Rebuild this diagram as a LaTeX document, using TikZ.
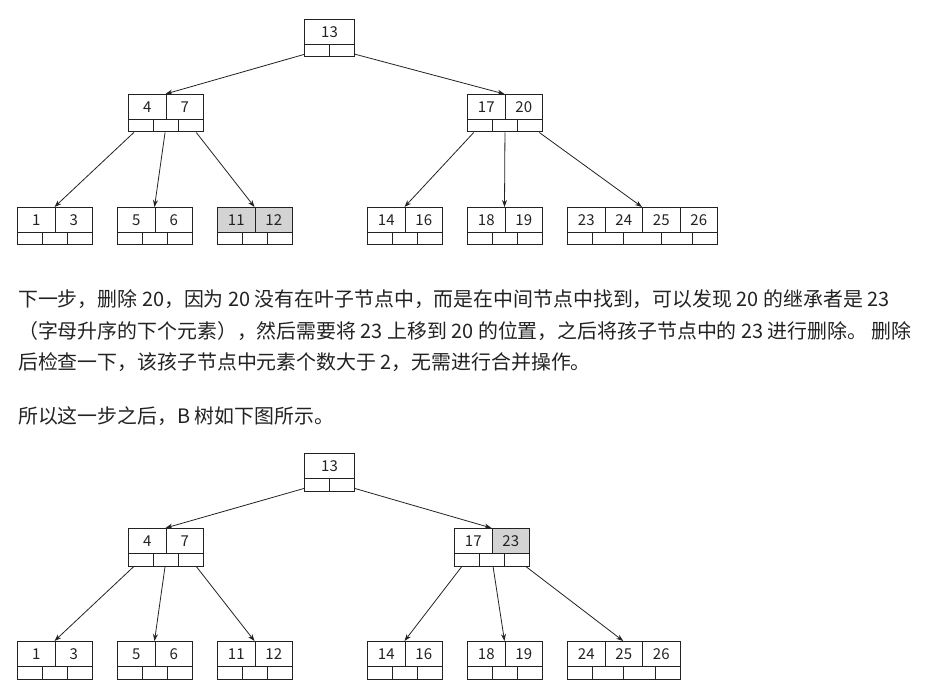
\documentclass[tikz,border=0pt]{standalone}
\usepackage{fontspec}
\usetikzlibrary{arrows.meta}
\newfontfamily\cjk{Noto Sans CJK SC}
\definecolor{ink}{HTML}{222222}
\definecolor{hilite}{HTML}{D3D3D3}

\tikzset{
  keycell/.style={draw=ink,line width=1pt,anchor=north west,inner sep=0pt,minimum width=37.5,minimum height=25,text height=10.5,text depth=0,font=\cjk\fontsize{15}{17}\selectfont,text=ink},
  ptrcell/.style={draw=ink,line width=1pt,anchor=north west,inner sep=0pt,minimum width=25,minimum height=12.5},
  link/.style={draw=ink,line width=.8pt,-{Stealth[length=7pt,width=5pt]}},
  para/.style={anchor=base west,inner sep=0pt,font=\cjk\fontsize{19.9}{22}\selectfont,text=ink}
}

\begin{document}
\begin{tikzpicture}[x=1pt,y=-1pt]
\useasboundingbox (0,0) rectangle (935,695);
% upper tree
\coordinate (u13) at (329,19);
\node[keycell,minimum width=50] (u13k1) at (304,19) {13};
\node[ptrcell] (u13p1) at (304,44) {};
\node[ptrcell] (u13p2) at (329,44) {};
\coordinate (u4x7) at (165.5,94);
\node[keycell] (u4x7k1) at (128,94) {4};
\node[keycell] (u4x7k2) at (165.5,94) {7};
\node[ptrcell] (u4x7p1) at (128,119) {};
\node[ptrcell] (u4x7p2) at (153,119) {};
\node[ptrcell] (u4x7p3) at (178,119) {};
\coordinate (u17x20) at (504.5,94);
\node[keycell] (u17x20k1) at (467,94) {17};
\node[keycell] (u17x20k2) at (504.5,94) {20};
\node[ptrcell] (u17x20p1) at (467,119) {};
\node[ptrcell] (u17x20p2) at (492,119) {};
\node[ptrcell] (u17x20p3) at (517,119) {};
\coordinate (u1x3) at (54.5,207);
\node[keycell] (u1x3k1) at (17,207) {1};
\node[keycell] (u1x3k2) at (54.5,207) {3};
\node[ptrcell] (u1x3p1) at (17,232) {};
\node[ptrcell] (u1x3p2) at (42,232) {};
\node[ptrcell] (u1x3p3) at (67,232) {};
\coordinate (u5x6) at (154.5,207);
\node[keycell] (u5x6k1) at (117,207) {5};
\node[keycell] (u5x6k2) at (154.5,207) {6};
\node[ptrcell] (u5x6p1) at (117,232) {};
\node[ptrcell] (u5x6p2) at (142,232) {};
\node[ptrcell] (u5x6p3) at (167,232) {};
\coordinate (u11x12) at (254.5,207);
\node[keycell,fill=hilite] (u11x12k1) at (217,207) {11};
\node[keycell,fill=hilite] (u11x12k2) at (254.5,207) {12};
\node[ptrcell] (u11x12p1) at (217,232) {};
\node[ptrcell] (u11x12p2) at (242,232) {};
\node[ptrcell] (u11x12p3) at (267,232) {};
\coordinate (u14x16) at (404.5,207);
\node[keycell] (u14x16k1) at (367,207) {14};
\node[keycell] (u14x16k2) at (404.5,207) {16};
\node[ptrcell] (u14x16p1) at (367,232) {};
\node[ptrcell] (u14x16p2) at (392,232) {};
\node[ptrcell] (u14x16p3) at (417,232) {};
\coordinate (u18x19) at (504.5,207);
\node[keycell] (u18x19k1) at (467,207) {18};
\node[keycell] (u18x19k2) at (504.5,207) {19};
\node[ptrcell] (u18x19p1) at (467,232) {};
\node[ptrcell] (u18x19p2) at (492,232) {};
\node[ptrcell] (u18x19p3) at (517,232) {};
\coordinate (u23x26) at (642,207);
\node[keycell] (u23x26k1) at (567,207) {23};
\node[keycell] (u23x26k2) at (604.5,207) {24};
\node[keycell] (u23x26k3) at (642,207) {25};
\node[keycell] (u23x26k4) at (679.5,207) {26};
\node[ptrcell] (u23x26p1) at (567,232) {};
\node[ptrcell,minimum width=31] (u23x26p2) at (592,232) {};
\node[ptrcell,minimum width=38] (u23x26p3) at (623,232) {};
\node[ptrcell,minimum width=31] (u23x26p4) at (661,232) {};
\node[ptrcell] (u23x26p5) at (692,232) {};
\draw[link] (u13p1) -- (u4x7);
\draw[link] (u13p2) -- (u17x20);
\draw[link] (u4x7p1) -- (u1x3);
\draw[link] (u4x7p2) -- (u5x6);
\draw[link] (u4x7p3) -- (u11x12);
\draw[link] (u17x20p1) -- (u14x16);
\draw[link] (u17x20p2) -- (u18x19);
\draw[link] (u17x20p3) -- (u23x26);
% text
\node[para] (line1) at (18,307) {下一步，删除 20，因为 20 没有在叶子节点中，而是在中间节点中找到，可以发现 20 的继承者是 23};
\node[para] (line2) at (18,338) {（字母升序的下个元素），然后需要将 23 上移到 20 的位置，之后将孩子节点中的 23 进行删除。 删除};
\node[para] (line3) at (18,369) {后检查一下，该孩子节点中元素个数大于 2，无需进行合并操作。};
\node[para] (line4) at (18,423) {所以这一步之后，B 树如下图所示。};
% lower tree
\coordinate (l13) at (329,453);
\node[keycell,minimum width=50] (l13k1) at (304,453) {13};
\node[ptrcell] (l13p1) at (304,478) {};
\node[ptrcell] (l13p2) at (329,478) {};
\coordinate (l4x7) at (165.5,528);
\node[keycell] (l4x7k1) at (128,528) {4};
\node[keycell] (l4x7k2) at (165.5,528) {7};
\node[ptrcell] (l4x7p1) at (128,553) {};
\node[ptrcell] (l4x7p2) at (153,553) {};
\node[ptrcell] (l4x7p3) at (178,553) {};
\coordinate (l17x23) at (491.5,528);
\node[keycell] (l17x23k1) at (454,528) {17};
\node[keycell,fill=hilite] (l17x23k2) at (491.5,528) {23};
\node[ptrcell] (l17x23p1) at (454,553) {};
\node[ptrcell] (l17x23p2) at (479,553) {};
\node[ptrcell] (l17x23p3) at (504,553) {};
\coordinate (l1x3) at (54.5,641);
\node[keycell] (l1x3k1) at (17,641) {1};
\node[keycell] (l1x3k2) at (54.5,641) {3};
\node[ptrcell] (l1x3p1) at (17,666) {};
\node[ptrcell] (l1x3p2) at (42,666) {};
\node[ptrcell] (l1x3p3) at (67,666) {};
\coordinate (l5x6) at (154.5,641);
\node[keycell] (l5x6k1) at (117,641) {5};
\node[keycell] (l5x6k2) at (154.5,641) {6};
\node[ptrcell] (l5x6p1) at (117,666) {};
\node[ptrcell] (l5x6p2) at (142,666) {};
\node[ptrcell] (l5x6p3) at (167,666) {};
\coordinate (l11x12) at (254.5,641);
\node[keycell] (l11x12k1) at (217,641) {11};
\node[keycell] (l11x12k2) at (254.5,641) {12};
\node[ptrcell] (l11x12p1) at (217,666) {};
\node[ptrcell] (l11x12p2) at (242,666) {};
\node[ptrcell] (l11x12p3) at (267,666) {};
\coordinate (l14x16) at (404.5,641);
\node[keycell] (l14x16k1) at (367,641) {14};
\node[keycell] (l14x16k2) at (404.5,641) {16};
\node[ptrcell] (l14x16p1) at (367,666) {};
\node[ptrcell] (l14x16p2) at (392,666) {};
\node[ptrcell] (l14x16p3) at (417,666) {};
\coordinate (l18x19) at (504.5,641);
\node[keycell] (l18x19k1) at (467,641) {18};
\node[keycell] (l18x19k2) at (504.5,641) {19};
\node[ptrcell] (l18x19p1) at (467,666) {};
\node[ptrcell] (l18x19p2) at (492,666) {};
\node[ptrcell] (l18x19p3) at (517,666) {};
\coordinate (l24x26) at (623.25,641);
\node[keycell] (l24x26k1) at (567,641) {24};
\node[keycell] (l24x26k2) at (604.5,641) {25};
\node[keycell] (l24x26k3) at (642,641) {26};
\node[ptrcell] (l24x26p1) at (567,666) {};
\node[ptrcell,minimum width=31.25] (l24x26p2) at (592,666) {};
\node[ptrcell,minimum width=31.25] (l24x26p3) at (623.25,666) {};
\node[ptrcell] (l24x26p4) at (654.5,666) {};
\draw[link] (l13p1) -- (l4x7);
\draw[link] (l13p2) -- (l17x23);
\draw[link] (l4x7p1) -- (l1x3);
\draw[link] (l4x7p2) -- (l5x6);
\draw[link] (l4x7p3) -- (l11x12);
\draw[link] (l17x23p1) -- (l14x16);
\draw[link] (l17x23p2) -- (l18x19);
\draw[link] (l17x23p3) -- (l24x26);
\end{tikzpicture}
\end{document}
